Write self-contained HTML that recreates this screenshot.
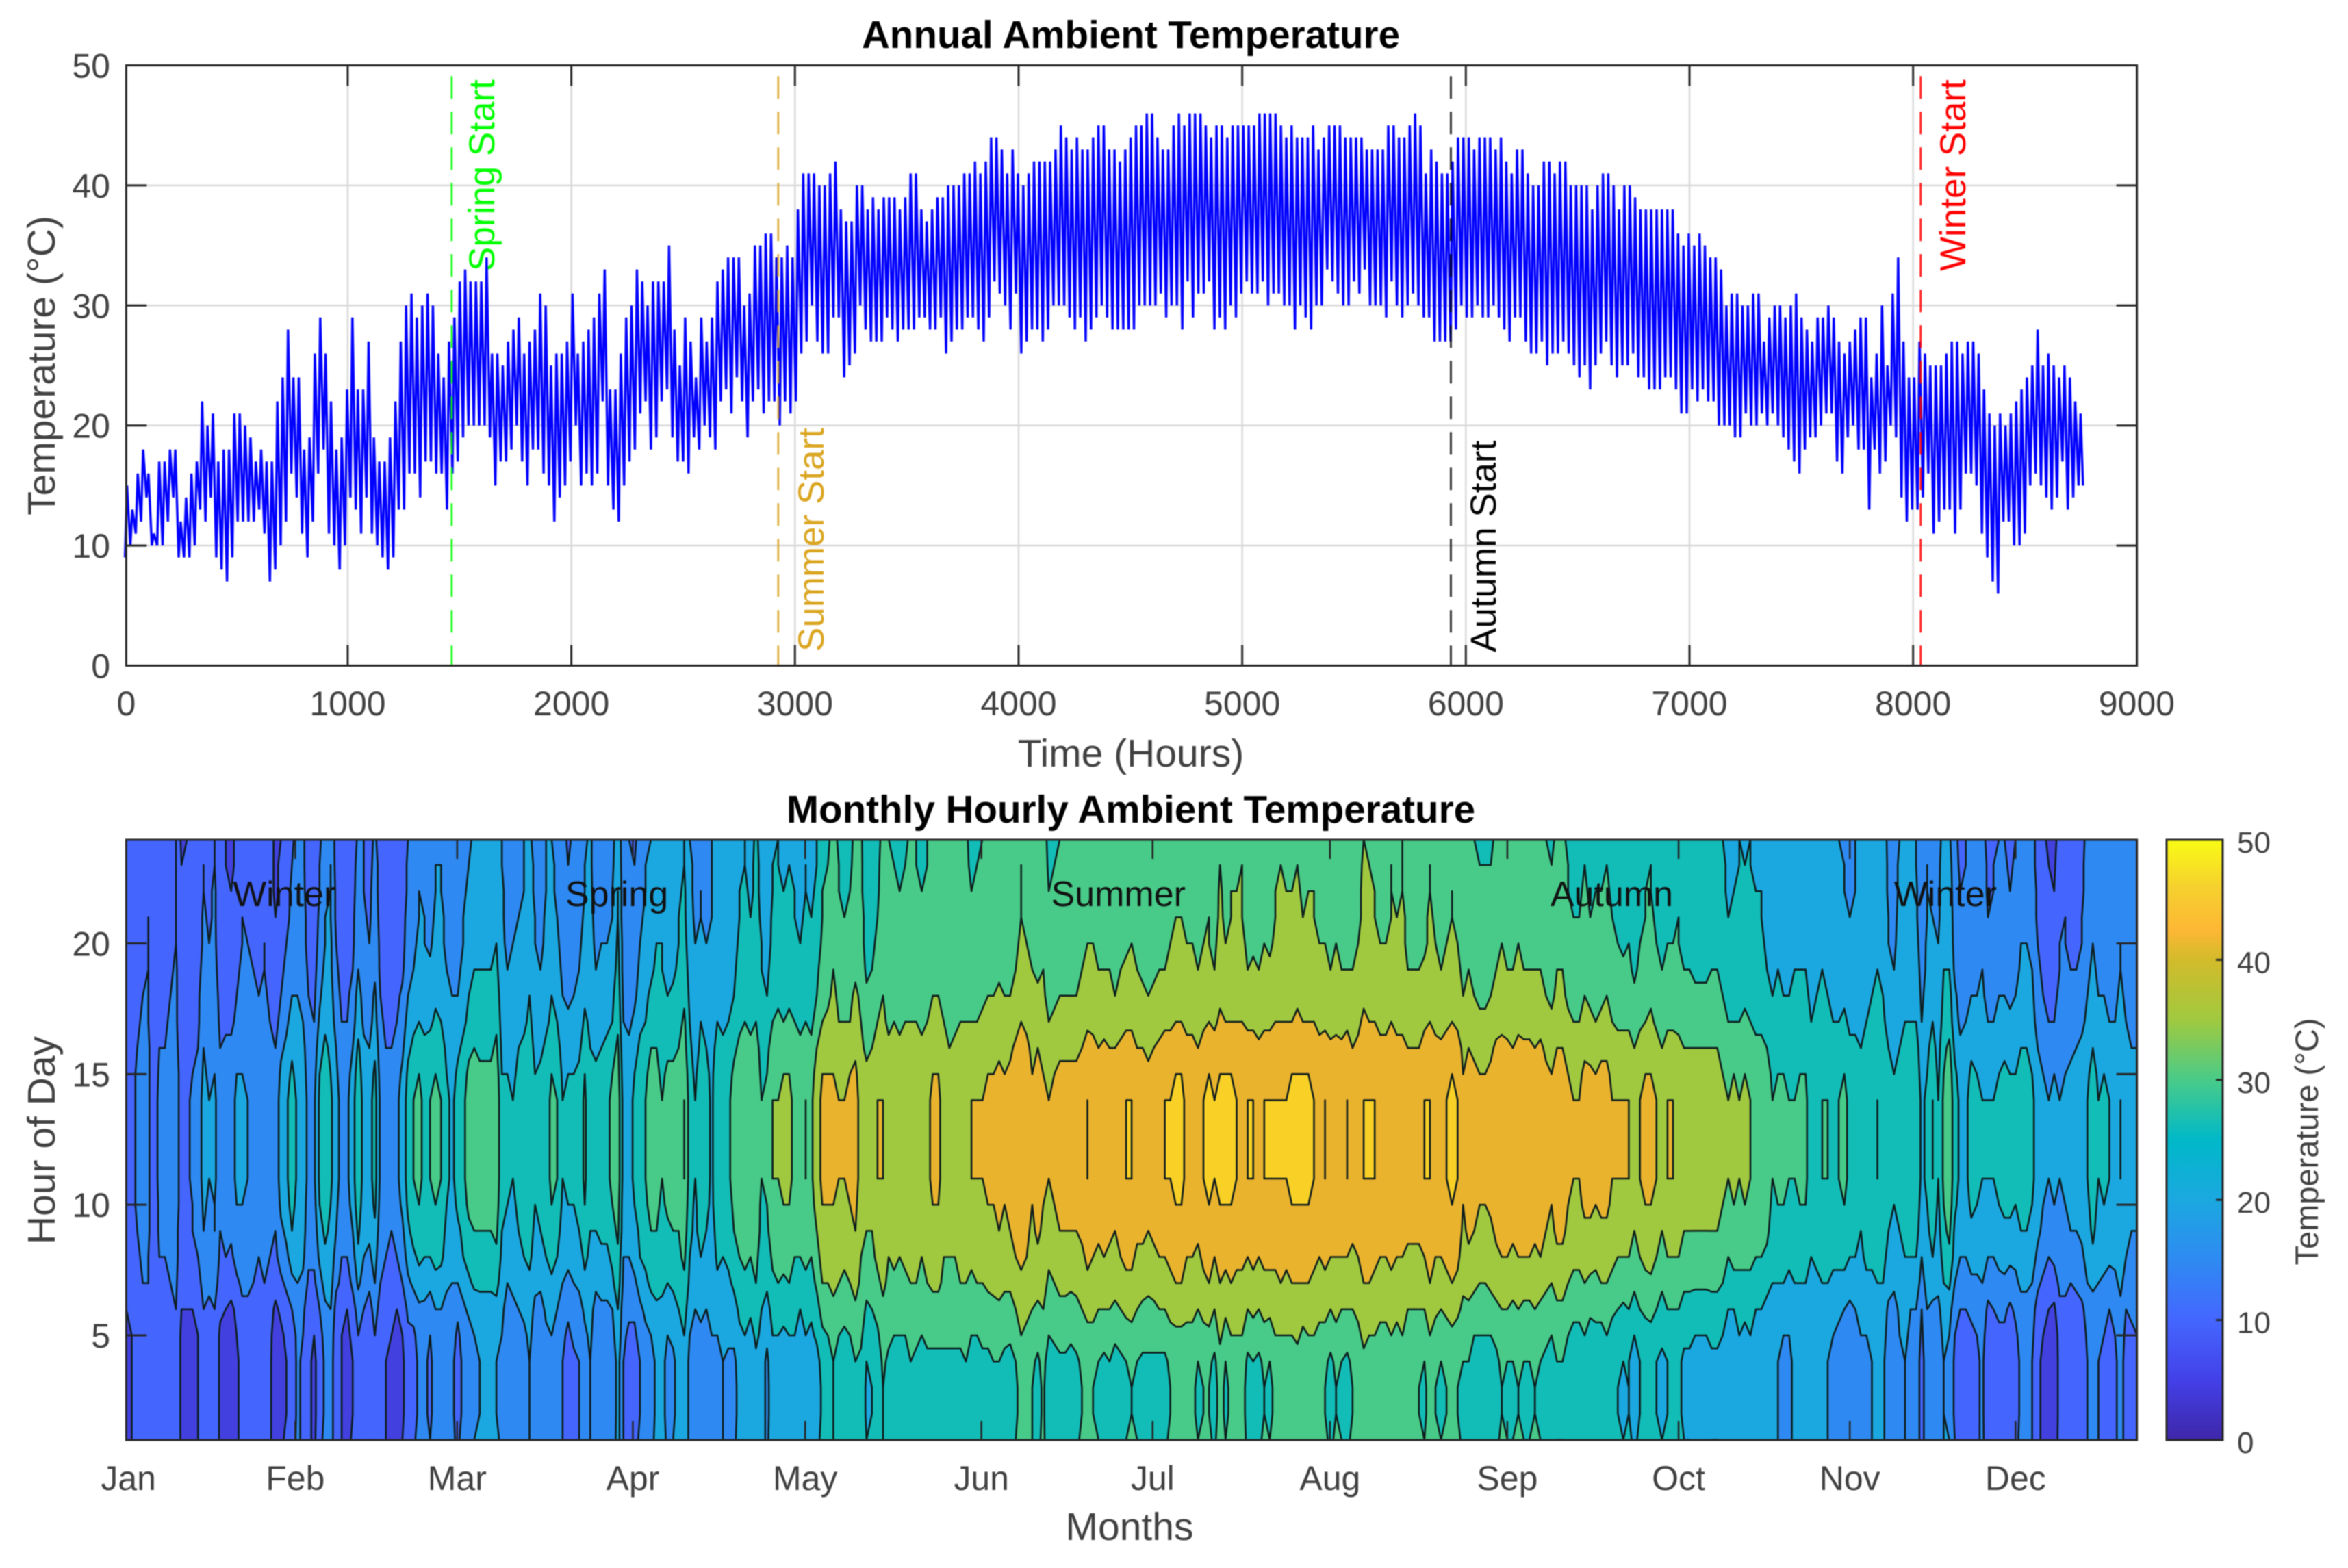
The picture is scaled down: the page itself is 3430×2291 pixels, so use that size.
<!DOCTYPE html>
<html lang="en">
<head>
<meta charset="utf-8">
<title>Annual Ambient Temperature</title>
<style>
html,body{margin:0;padding:0;background:#fff;}
svg{display:block;filter:blur(0.7px);}
text{font-family:"Liberation Sans",Arial,sans-serif;fill:#404040;}
.title{font-weight:bold;font-size:56.6px;fill:#000;}
.tick{font-size:50px;}
.label{font-size:57px;}
.cb{font-size:44px;}
.cbt{font-size:47px;}
</style>
</head>
<body>
<svg id="fig" xmlns="http://www.w3.org/2000/svg" width="3430" height="2291" viewBox="0 0 3430 2291">
  <defs>
    <clipPath id="contour-clip"><rect x="184.4" y="1227" width="2937.2" height="877"/></clipPath>
    <linearGradient id="parula" x1="0" y1="1" x2="0" y2="0">
      <stop offset="0" stop-color="#3e26a8"/>
      <stop offset="0.1" stop-color="#4340e8"/>
      <stop offset="0.2" stop-color="#4466ff"/>
      <stop offset="0.3" stop-color="#2e8af2"/>
      <stop offset="0.4" stop-color="#1ba8e0"/>
      <stop offset="0.5" stop-color="#00b8c8"/>
      <stop offset="0.6" stop-color="#48cb88"/>
      <stop offset="0.7" stop-color="#a0c93f"/>
      <stop offset="0.8" stop-color="#d2bb2a"/>
      <stop offset="0.85" stop-color="#fdb734"/>
      <stop offset="0.92" stop-color="#f5d02e"/>
      <stop offset="1" stop-color="#f9fb15"/>
    </linearGradient>
  </defs>
  <rect x="0" y="0" width="3430" height="2291" fill="#fff"/>
  <g id="top-grid"></g>
  <g id="top-line"></g>
  <g id="top-seasons"></g>
  <g id="top-axes"></g>
  <text class="title" x="1652" y="70" text-anchor="middle">Annual Ambient Temperature</text>
  <text class="label" x="1652" y="1120" text-anchor="middle">Time (Hours)</text>
  <text class="label" transform="translate(80 534) rotate(-90)" text-anchor="middle">Temperature (°C)</text>

  <g id="contour-fills" clip-path="url(#contour-clip)"></g>
  <g id="contour-lines" clip-path="url(#contour-clip)"></g>
  <g id="contour-notes"></g>
  <g id="bottom-axes"></g>
  <text class="title" x="1652" y="1202" text-anchor="middle">Monthly Hourly Ambient Temperature</text>
  <text class="label" x="1650" y="2250" text-anchor="middle">Months</text>
  <text class="label" transform="translate(80 1666) rotate(-90)" text-anchor="middle">Hour of Day</text>

  <rect x="3165" y="1227" width="82" height="877" fill="url(#parula)" stroke="#262626" stroke-width="3"/>
  <g id="colorbar-axis"></g>
  <text class="cbt" transform="translate(3386 1668) rotate(-90)" text-anchor="middle">Temperature (°C)</text>
</svg>

<script>
// ---- Data ----
const dailyHighs = [
15,13,16,18,16,11,17,17,18,18,12,14,16,17,22,20,21,17,18,18,21,21,20,19,17,18,17,17,22,24,28,24,24,18,19,26,29,26,22,18,19,23,29,23,23,27,19,17,17,19,22,27,30,31,29,30,31,30,26,24,27,29,
32,33,32,32,32,34,26,26,25,27,28,29,26,27,28,31,30,25,26,26,27,31,26,27,28,29,31,33,23,23,26,29,30,33,32,30,32,32,32,35,28,25,29,27,24,29,27,29,32,33,34,34,34,30,31,35,35,36,36,34,34,35,34,
38,41,41,41,40,40,41,42,38,37,37,40,40,38,39,38,39,39,39,38,39,41,41,38,37,38,39,39,40,40,40,41,41,42,41,42,44,44,43,41,43,41,40,41,42,42,42,42,43,45,44,43,44,43,43,44,45,45,43,43,42,43,
44,45,45,46,46,44,43,43,45,46,45,46,46,46,45,44,45,45,44,45,45,45,45,45,46,46,46,46,45,44,45,44,44,44,45,43,44,45,45,45,44,44,44,44,43,43,43,43,45,45,44,44,45,46,45,41,43,42,41,41,42,44,44,
44,43,44,44,44,43,44,42,41,43,43,41,40,40,42,42,41,42,42,40,40,40,40,38,40,41,41,40,38,40,40,39,38,38,38,38,38,38,38,36,35,36,35,36,35,34,34,33,30,31,31,30,30,31,31,27,29,30,30,29,30,31,
29,28,27,29,29,30,29,27,26,27,28,29,29,24,26,30,25,31,34,27,24,24,27,26,25,25,25,26,27,27,26,27,27,26,23,21,20,21,20,21,22,23,24,25,28,25,26,25,24,25,24,22,21];
const dailyLows = [
9,10,11,12,14,10,10,10,12,14,9,9,9,10,13,12,14,9,8,7,9,12,12,12,12,13,11,7,8,10,12,16,14,11,9,12,16,18,11,10,8,10,14,13,11,14,11,10,9,8,9,13,13,16,16,14,17,17,16,16,13,16,
17,19,20,20,20,20,19,15,17,17,18,20,17,15,18,18,16,15,12,14,15,17,20,15,16,15,16,22,15,13,12,15,17,18,21,22,18,19,22,23,19,17,17,16,19,18,20,19,18,22,23,21,24,22,19,22,23,21,22,22,20,22,21,
22,26,27,30,27,26,26,29,29,24,25,26,30,28,27,27,27,29,28,27,28,28,28,29,29,28,28,29,26,27,28,28,29,29,28,27,29,32,31,30,28,31,26,27,28,28,27,28,30,30,30,29,28,29,27,28,29,30,29,28,28,28,
28,28,30,30,30,30,31,29,30,30,28,32,29,31,31,32,28,29,28,30,29,31,32,31,31,32,30,31,31,30,30,28,30,29,28,30,30,33,32,31,30,30,32,31,33,30,30,30,29,32,30,29,30,31,30,29,29,27,27,27,27,28,30,
29,29,30,29,29,30,29,28,27,29,29,27,26,26,27,25,26,26,27,26,25,24,25,23,25,26,27,25,24,25,25,26,24,24,23,23,23,24,24,23,21,21,23,22,23,22,22,20,20,20,19,19,21,20,20,21,20,21,20,19,18,17,
16,18,19,19,20,21,21,17,16,19,20,18,18,13,18,16,17,20,19,14,12,13,13,14,16,11,12,13,13,11,13,16,16,15,11,9,7,6,12,12,10,10,11,15,16,15,14,13,14,17,13,14,15];
const finalValue = 15;
const summerProfile = [0.04,0.02,0.005,0.05,0.25,0.42,0.6,0.72,0.84,0.94,0.985,1,1,0.985,0.92,0.8,0.63,0.52,0.42,0.34,0.29,0.25,0.21,0.17];
const winterProfile = [0.04,0.02,0.005,0.01,0.06,0.2,0.45,0.65,0.8,0.92,0.98,1,1,0.97,0.9,0.78,0.62,0.5,0.41,0.33,0.28,0.24,0.2,0.15];
const monthlySummerWeight = [0,0,0.3,0.6,1,1,1,1,0.7,0.4,0.1,0];
const lowHourOfDay = 4;
const highHourOfDay = 13;

const hourTicks = [1000,2000,3000,4000,5000,6000,7000,8000,9000];
const hourTickLabels = ["0","1000","2000","3000","4000","5000","6000","7000","8000","9000"];
const tempTicks = [0,10,20,30,40,50];

const seasonNames = ["Spring Start","Summer Start","Autumn Start","Winter Start"];
const seasonHours = [1465,2925,5933,8034];
const seasonColors = ["#00ff00","#daa520","#000000","#ff0000"];

const contourLevels = [0,5,10,15,20,25,30,35,40,45];
const bandColors = ["#3e26a8","#4340e0","#4466ff","#2e8af2","#1ba8e0","#12bdb8","#48cb88","#a0c93f","#eab32e","#f9d126"];
const monthNames = ["Jan","Feb","Mar","Apr","May","Jun","Jul","Aug","Sep","Oct","Nov","Dec"];
const monthDays = [0.4,30.6,59.9,91.7,122.9,154.8,185.8,217.9,250,281,312,342];
const hourOfDayTicks = [5,10,15,20];
const noteNames = ["Winter","Spring","Summer","Autumn","Winter"];
const noteDays = [28.6,88.8,179.6,268.9,329.3];
const noteHour = 21.9;
const colorbarTicks = [0,10,20,30,40,50];

// ---- Axis functions ----
const xHours = h => 181.3 + 0.32667 * h;
const yTemp = v => 972.5 - 17.54 * v;
const xDay = d => 184.4 + 8.07 * d;
const yHour = h => 2103.6 - 38.16 * (h - 1);
const yBar = v => 2104 - 17.54 * v;

const NS = "http://www.w3.org/2000/svg";
function mk(parent, tag, attrs, txt) {
  const el = document.createElementNS(NS, tag);
  for (const k in attrs) el.setAttribute(k, attrs[k]);
  if (txt !== undefined) el.textContent = txt;
  parent.appendChild(el);
  return el;
}
const $ = id => document.getElementById(id);
const DARK = "#262626";
let el;

// ---- Top panel ----
const L = 184.4, R = 3121.6, T0 = 95.5, B0 = 972.5;
hourTicks.slice(0, 8).forEach(h => {
  el = mk($("top-grid"), "line", {x1: xHours(h), x2: xHours(h), y1: T0, y2: B0, stroke: "#d9d9d9", "stroke-width": 2.6});
  
  
});
tempTicks.slice(1, 5).forEach(v => {
  el = mk($("top-grid"), "line", {x1: L, x2: R, y1: yTemp(v), y2: yTemp(v), stroke: "#d9d9d9", "stroke-width": 2.6});
  
  
});

let d = "";
dailyLows.forEach((lo, i) => {
  d += (i ? "L" : "M") + xHours(24 * i + lowHourOfDay).toFixed(1) + " " + yTemp(lo).toFixed(1);
  d += "L" + xHours(24 * i + highHourOfDay).toFixed(1) + " " + yTemp(dailyHighs[i]).toFixed(1);
});
d += "L" + xHours(24 * dailyLows.length).toFixed(1) + " " + yTemp(finalValue).toFixed(1);
el = mk($("top-line"), "path", {d: d, fill: "none", stroke: "#0000ff", "stroke-width": 3.4, "stroke-linejoin": "miter", "stroke-miterlimit": 2});



const seasonLabelBase = [[722,396],[1203,952],[2185,953],[2871,396]];
seasonHours.forEach((h, i) => {
  el = mk($("top-seasons"), "line", {x1: xHours(h), x2: xHours(h), y1: yTemp(49.1), y2: yTemp(0), stroke: seasonColors[i], "stroke-width": 2.8, "stroke-dasharray": "33 19", opacity: 0.88});
  
  
  el = mk($("top-seasons"), "text", {transform: "translate(" + seasonLabelBase[i][0] + " " + seasonLabelBase[i][1] + ") rotate(-90)", "font-size": 53, style: "fill:" + seasonColors[i]}, seasonNames[i]);
  
  
});

hourTicks.slice(0, 8).forEach(h => {
  [[B0, B0 - 30], [T0, T0 + 30]].forEach(p => {
    el = mk($("top-axes"), "line", {x1: xHours(h), x2: xHours(h), y1: p[0], y2: p[1], stroke: DARK, "stroke-width": 3});
    
    
  });
});
tempTicks.slice(1, 5).forEach(v => {
  [[L, L + 30], [R, R - 30]].forEach(p => {
    el = mk($("top-axes"), "line", {x1: p[0], x2: p[1], y1: yTemp(v), y2: yTemp(v), stroke: DARK, "stroke-width": 3});
    
    
  });
});
el = mk($("top-axes"), "rect", {x: L, y: T0, width: R - L, height: B0 - T0, fill: "none", stroke: DARK, "stroke-width": 3});


[0].concat(hourTicks).forEach((h, i) => {
  el = mk($("top-axes"), "text", {class: "tick", x: i === 0 ? L : xHours(h), y: 1045, "text-anchor": "middle"}, hourTickLabels[i]);
  
  
});
tempTicks.forEach(v => {
  el = mk($("top-axes"), "text", {class: "tick", x: 161, y: yTemp(v) + 18, "text-anchor": "end"}, String(v));
  
  
});

// ---- Bottom panel: field and filled contours ----
const nDays = dailyHighs.length, nHours = summerProfile.length;
function summerWeight(c) {
  const pos = Math.min(11, Math.max(0, c / nDays * 12 - 0.5));
  const i = Math.min(10, Math.floor(pos));
  return monthlySummerWeight[i] + (monthlySummerWeight[i + 1] - monthlySummerWeight[i]) * (pos - i);
}
const Z = [];
for (let r = 0; r < nHours; r++) {
  const row = [];
  for (let c = 0; c < nDays; c++) {
    const w = summerWeight(c);
    const f = w * summerProfile[r] + (1 - w) * winterProfile[r];
    // the station data is whole degrees, so plateaus sit exactly on the levels
    row.push(Math.round(dailyLows[c] + (dailyHighs[c] - dailyLows[c]) * f));
  }
  Z.push(row);
}
const P = (c, r) => xDay(c).toFixed(1) + " " + yHour(r + 1).toFixed(1);

el = mk($("contour-fills"), "rect", {x: L, y: 1227, width: R - L, height: 877, fill: bandColors[0]});



let lineD = "";
contourLevels.forEach((lev, li) => {
  if (li === 0) return;
  const t = lev - 0.001;
  let fill = "";
  for (let r = 0; r < nHours - 1; r++) {
    let run = -1;
    for (let c = 0; c < nDays - 1; c++) {
      const pts = [[c, r, Z[r][c]], [c + 1, r, Z[r][c + 1]], [c + 1, r + 1, Z[r + 1][c + 1]], [c, r + 1, Z[r + 1][c]]];
      const allUp = pts.every(p => p[2] >= t);
      if (allUp) { if (run < 0) run = c; continue; }
      if (run >= 0) {
        fill += "M" + P(run, r) + "L" + P(c, r) + "L" + P(c, r + 1) + "L" + P(run, r + 1) + "Z";
        run = -1;
      }
      if (pts.every(p => p[2] < t)) continue;
      // clip this cell against the level
      const poly = [], cross = [];
      for (let k = 0; k < 4; k++) {
        const a = pts[k], b = pts[(k + 1) % 4];
        if (a[2] >= t) poly.push([a[0], a[1]]);
        if ((a[2] >= t) !== (b[2] >= t)) {
          const f = (t - a[2]) / (b[2] - a[2]);
          const q = [a[0] + (b[0] - a[0]) * f, a[1] + (b[1] - a[1]) * f];
          poly.push(q);
          cross.push(q);
        }
      }
      const S = q => xDay(q[0]).toFixed(1) + " " + yHour(q[1] + 1).toFixed(1);
      fill += "M" + poly.map(S).join("L") + "Z";
      if (cross.length === 2) {
        lineD += "M" + S(cross[0]) + "L" + S(cross[1]);
      } else if (cross.length === 4) {
        lineD += "M" + S(cross[0]) + "L" + S(cross[1]) + "M" + S(cross[2]) + "L" + S(cross[3]);
      }
    }
    if (run >= 0) {
      fill += "M" + P(run, r) + "L" + P(nDays - 1, r) + "L" + P(nDays - 1, r + 1) + "L" + P(run, r + 1) + "Z";
    }
  }
  if (fill) {
    el = mk($("contour-fills"), "path", {d: fill, fill: bandColors[li], stroke: bandColors[li], "stroke-width": 0.8});
    
    
  }
});
el = mk($("contour-lines"), "path", {d: lineD, fill: "none", stroke: "#0e1c1c", "stroke-width": 2.6, "stroke-linecap": "round"});



noteNames.forEach((n, i) => {
  el = mk($("contour-notes"), "text", {x: xDay(noteDays[i]), y: yHour(noteHour) + 18, "text-anchor": "middle", "font-size": 52, style: "fill:#111"}, n);
  
  
});

const T1 = 1227, B1 = 2104;
monthDays.forEach((m, i) => {
  if (i > 0) {
    [[B1, B1 - 28], [T1, T1 + 28]].forEach(p => {
      el = mk($("bottom-axes"), "line", {x1: xDay(m), x2: xDay(m), y1: p[0], y2: p[1], stroke: DARK, "stroke-width": 2.6});
      
      
    });
  }
  el = mk($("bottom-axes"), "text", {class: "tick", x: xDay(m), y: 2177, "text-anchor": "middle"}, monthNames[i]);
  
  
});
hourOfDayTicks.forEach(h => {
  [[L, L + 30], [R, R - 30]].forEach(p => {
    el = mk($("bottom-axes"), "line", {x1: p[0], x2: p[1], y1: yHour(h), y2: yHour(h), stroke: DARK, "stroke-width": 3});
    
    
  });
  el = mk($("bottom-axes"), "text", {class: "tick", x: 161, y: yHour(h) + 18, "text-anchor": "end"}, String(h));
  
  
});
el = mk($("bottom-axes"), "rect", {x: L, y: T1, width: R - L, height: B1 - T1, fill: "none", stroke: DARK, "stroke-width": 3});



colorbarTicks.forEach(v => {
  if (v > 0 && v < 50) {
    el = mk($("colorbar-axis"), "line", {x1: 3247, x2: 3237, y1: yBar(v), y2: yBar(v), stroke: DARK, "stroke-width": 3});
    
    
  }
  el = mk($("colorbar-axis"), "text", {class: "cb", x: 3268, y: yBar(v) + 19}, String(v));
  
  
});
</script>
</body>
</html>
